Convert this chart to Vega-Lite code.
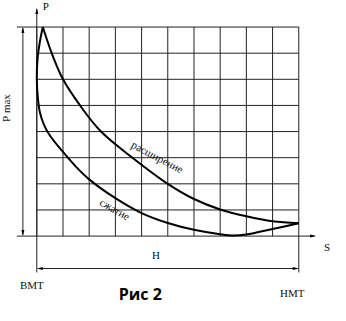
{
  "$schema": "https://vega.github.io/schema/vega-lite/v6.json",
  "width": 346,
  "height": 321,
  "autosize": {"type": "fit", "contains": "padding"},
  "padding": 0,
  "background": "white",
  "config": {"view": {"stroke": null}},
  "datasets": {
    "segments": [
      {"x": 0, "y": 0, "x2": 0, "y2": 8},
      {"x": 1, "y": 0, "x2": 1, "y2": 8},
      {"x": 2, "y": 0, "x2": 2, "y2": 8},
      {"x": 3, "y": 0, "x2": 3, "y2": 8},
      {"x": 4, "y": 0, "x2": 4, "y2": 8},
      {"x": 5, "y": 0, "x2": 5, "y2": 8},
      {"x": 6, "y": 0, "x2": 6, "y2": 8},
      {"x": 7, "y": 0, "x2": 7, "y2": 8},
      {"x": 8, "y": 0, "x2": 8, "y2": 8},
      {"x": 9, "y": 0, "x2": 9, "y2": 8},
      {"x": 10, "y": -1.39, "x2": 10, "y2": 8},
      {"x": 0, "y": 1, "x2": 10, "y2": 1},
      {"x": 0, "y": 2, "x2": 10, "y2": 2},
      {"x": 0, "y": 3, "x2": 10, "y2": 3},
      {"x": 0, "y": 4, "x2": 10, "y2": 4},
      {"x": 0, "y": 5, "x2": 10, "y2": 5},
      {"x": 0, "y": 6, "x2": 10, "y2": 6},
      {"x": 0, "y": 7, "x2": 10, "y2": 7},
      {"x": -0.76, "y": 8, "x2": 10, "y2": 8},
      {"x": -0.76, "y": 0, "x2": 10.6, "y2": 0},
      {"x": 0, "y": -1.39, "x2": 0, "y2": 8.68},
      {"x": -0.531, "y": 0.05, "x2": -0.531, "y2": 7.95},
      {"x": 0.05, "y": -1.24, "x2": 9.95, "y2": -1.24}
    ],
    "arrows": [
      {"x": 0, "y": 8.73, "dir": "up"},
      {"x": 10.66, "y": 0, "dir": "right"},
      {"x": -0.531, "y": 8, "dir": "up"},
      {"x": -0.531, "y": 0, "dir": "down"},
      {"x": 0, "y": -1.24, "dir": "left"},
      {"x": 10, "y": -1.24, "dir": "right"}
    ],
    "curves": [
      {"series": "expansion", "i": 0, "x": 0.23, "y": 8.0},
      {"series": "expansion", "i": 1, "x": 0.57, "y": 7.0},
      {"series": "expansion", "i": 2, "x": 1.0, "y": 6.0},
      {"series": "expansion", "i": 3, "x": 1.65, "y": 5.0},
      {"series": "expansion", "i": 4, "x": 2.45, "y": 4.0},
      {"series": "expansion", "i": 5, "x": 3.65, "y": 3.0},
      {"series": "expansion", "i": 6, "x": 5.0, "y": 2.0},
      {"series": "expansion", "i": 7, "x": 6.0, "y": 1.42},
      {"series": "expansion", "i": 8, "x": 7.0, "y": 1.02},
      {"series": "expansion", "i": 9, "x": 8.0, "y": 0.76},
      {"series": "expansion", "i": 10, "x": 9.0, "y": 0.57},
      {"series": "expansion", "i": 11, "x": 10.0, "y": 0.49},
      {"series": "compression", "i": 0, "x": 0.23, "y": 8.0},
      {"series": "compression", "i": 1, "x": 0.11, "y": 7.39},
      {"series": "compression", "i": 2, "x": 0.03, "y": 6.8},
      {"series": "compression", "i": 3, "x": 0.0, "y": 6.0},
      {"series": "compression", "i": 4, "x": 0.04, "y": 5.3},
      {"series": "compression", "i": 5, "x": 0.12, "y": 4.73},
      {"series": "compression", "i": 6, "x": 0.28, "y": 4.25},
      {"series": "compression", "i": 7, "x": 0.5, "y": 3.85},
      {"series": "compression", "i": 8, "x": 1.0, "y": 3.22},
      {"series": "compression", "i": 9, "x": 1.5, "y": 2.65},
      {"series": "compression", "i": 10, "x": 2.0, "y": 2.17},
      {"series": "compression", "i": 11, "x": 3.0, "y": 1.45},
      {"series": "compression", "i": 12, "x": 4.0, "y": 0.88},
      {"series": "compression", "i": 13, "x": 5.0, "y": 0.5},
      {"series": "compression", "i": 14, "x": 6.0, "y": 0.24},
      {"series": "compression", "i": 15, "x": 7.0, "y": 0.07},
      {"series": "compression", "i": 16, "x": 7.5, "y": 0.02},
      {"series": "compression", "i": 17, "x": 8.0, "y": 0.06},
      {"series": "compression", "i": 18, "x": 9.0, "y": 0.27},
      {"series": "compression", "i": 19, "x": 10.0, "y": 0.49}
    ],
    "labels": [
      {"x": 4.59, "y": 3.0, "text": "расширение", "angle": 28, "size": 11},
      {"x": 2.96, "y": 1.0, "text": "сжатие", "angle": 30, "size": 11},
      {"x": 0.34, "y": 8.78, "text": "P", "angle": 0, "size": 11},
      {"x": 11.08, "y": -0.44, "text": "S", "angle": 0, "size": 11},
      {"x": 4.55, "y": -0.75, "text": "H", "angle": 0, "size": 11},
      {"x": -0.19, "y": -1.92, "text": "ВМТ", "angle": 0, "size": 11},
      {"x": 9.75, "y": -2.23, "text": "НМТ", "angle": 0, "size": 11},
      {"x": -1.15, "y": 4.9, "text": "Р max", "angle": 270, "size": 11}
    ],
    "caption": [
      {"x": 3.95, "y": -2.26, "text": "Рис 2"}
    ]
  },
  "layer": [
    {
      "data": {"name": "segments"},
      "mark": {"type": "rule", "color": "#222222", "strokeWidth": 1},
      "encoding": {
        "x": {"field": "x", "type": "quantitative", "scale": {"domain": [-1.328, 11.803], "nice": false, "zero": false}, "axis": null},
        "y": {"field": "y", "type": "quantitative", "scale": {"domain": [-3.249, 8.92], "nice": false, "zero": false}, "axis": null},
        "x2": {"field": "x2"},
        "y2": {"field": "y2"}
      }
    },
    {
      "data": {"name": "arrows"},
      "mark": {"type": "point", "filled": true, "color": "black", "opacity": 1, "size": 36, "strokeWidth": 0},
      "encoding": {
        "x": {"field": "x", "type": "quantitative"},
        "y": {"field": "y", "type": "quantitative"},
        "shape": {"field": "dir", "type": "nominal", "legend": null,
          "scale": {"domain": ["up", "down", "left", "right"],
                    "range": ["M0,0L0.5,2L-0.5,2Z", "M0,0L0.5,-2L-0.5,-2Z", "M0,0L2,0.5L2,-0.5Z", "M0,0L-2,0.5L-2,-0.5Z"]}}
      }
    },
    {
      "data": {"name": "curves"},
      "mark": {"type": "line", "color": "black", "strokeWidth": 2, "interpolate": "catmull-rom"},
      "encoding": {
        "x": {"field": "x", "type": "quantitative"},
        "y": {"field": "y", "type": "quantitative"},
        "detail": {"field": "series"},
        "order": {"field": "i", "type": "quantitative"}
      }
    },
    {
      "data": {"name": "labels"},
      "mark": {"type": "text", "font": "Liberation Serif", "color": "#111111", "align": "center", "baseline": "middle"},
      "encoding": {
        "x": {"field": "x", "type": "quantitative"},
        "y": {"field": "y", "type": "quantitative"},
        "text": {"field": "text"},
        "angle": {"field": "angle", "type": "quantitative", "scale": null},
        "size": {"field": "size", "type": "quantitative", "scale": null}
      }
    },
    {
      "data": {"name": "caption"},
      "mark": {"type": "text", "font": "Open Sans", "fontWeight": "bold", "fontSize": 16, "color": "black", "align": "center", "baseline": "middle"},
      "encoding": {
        "x": {"field": "x", "type": "quantitative"},
        "y": {"field": "y", "type": "quantitative"},
        "text": {"field": "text"}
      }
    }
  ]
}
